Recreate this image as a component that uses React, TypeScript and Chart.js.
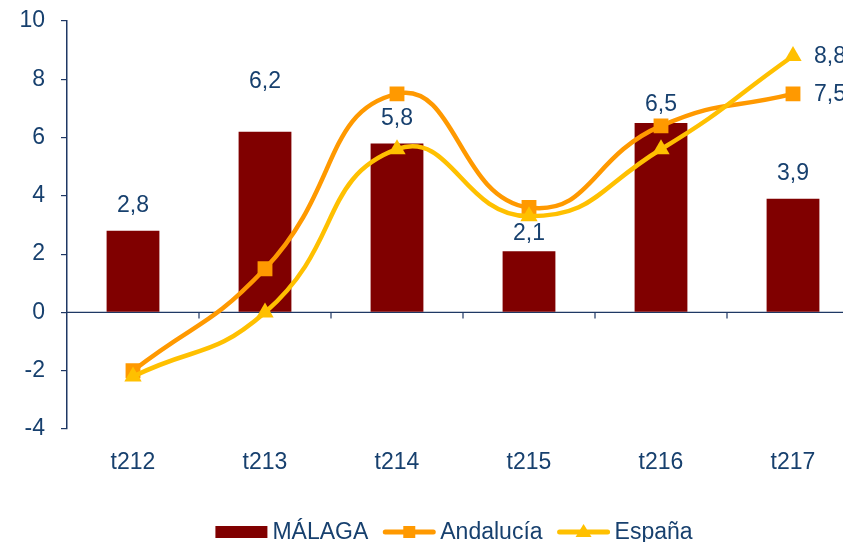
import React, { useEffect, useRef } from "react";
import { Chart, registerables } from "chart.js";

Chart.register(...registerables);

const categories = ["t212", "t213", "t214", "t215", "t216", "t217"];
const malaga = [2.8, 6.2, 5.8, 2.1, 6.5, 3.9];
const andalucia = [-2.0, 1.5, 7.5, 3.6, 6.4, 7.5];
const espana = [-2.2, 0.0, 5.6, 3.3, 5.6, 8.8];
const yTicks = [-4, -2, 0, 2, 4, 6, 8, 10];

const TEXT = "#17406E";
const AXIS = "#1F3864";
const BAR = "#800000";
const ORANGE = "#FF9900";
const YELLOW = "#FFC000";
const FONT = "'Liberation Sans', Arial, sans-serif";
const FS = 23;

const fmt = (v: number) => v.toFixed(1).replace(".", ",");

const overlayPlugin = {
  id: "overlay",
  beforeDatasetsDraw(chart: any) {
    const { ctx, chartArea, scales } = chart;
    const y0 = scales.y.getPixelForValue(0);
    ctx.save();
    ctx.strokeStyle = AXIS;
    ctx.lineWidth = 1.2;
    ctx.beginPath();
    ctx.moveTo(chartArea.left, y0);
    ctx.lineTo(chartArea.right, y0);
    const step = scales.x.getPixelForValue(1) - scales.x.getPixelForValue(0);
    for (let i = 1; i < categories.length; i++) {
      const x = scales.x.getPixelForValue(i) - step / 2;
      ctx.moveTo(x, y0);
      ctx.lineTo(x, y0 + 6);
    }
    ctx.stroke();
    ctx.restore();
  },
  afterDatasetsDraw(chart: any) {
    const { ctx, scales } = chart;
    ctx.save();
    ctx.fillStyle = TEXT;
    ctx.font = `${FS}px ${FONT}`;
    ctx.textAlign = "center";
    ctx.textBaseline = "middle";
    malaga.forEach((v, i) => {
      const x = scales.x.getPixelForValue(i);
      const top = scales.y.getPixelForValue(v);
      const gap = i === 1 ? 50 : i === 3 || i === 4 ? 18 : 25;
      ctx.fillText(fmt(v), x, top - gap);
    });
    ctx.textAlign = "left";
    const last = categories.length - 1;
    const xl = scales.x.getPixelForValue(last) + 21;
    ctx.fillText(fmt(andalucia[last]), xl, scales.y.getPixelForValue(andalucia[last]) + 1);
    ctx.fillText(fmt(espana[last]), xl, scales.y.getPixelForValue(espana[last]) + 1);

    // legend
    ctx.font = `${FS}px ${FONT}`;
    const names = ["MÁLAGA", "Andalucía", "España"];
    const markerW = 52;
    const gapText = 5;
    const spacing = 15;
    const widths = names.map((n) => ctx.measureText(n).width);
    const total =
      widths.reduce((a, b) => a + b, 0) + names.length * (markerW + gapText) + spacing * (names.length - 1);
    let x = 454 - total / 2;
    const ly = 532;
    names.forEach((n, i) => {
      if (i === 0) {
        ctx.fillStyle = BAR;
        ctx.fillRect(x, ly - 6, markerW, 12);
      } else {
        const col = i === 1 ? ORANGE : YELLOW;
        ctx.strokeStyle = col;
        ctx.lineWidth = 5;
        ctx.lineCap = "round";
        ctx.beginPath();
        ctx.moveTo(x + 2, ly);
        ctx.lineTo(x + markerW - 2, ly);
        ctx.stroke();
        ctx.fillStyle = col;
        const cx = x + markerW / 2;
        if (i === 1) {
          ctx.fillRect(cx - 6, ly - 6, 12, 12);
        } else {
          ctx.beginPath();
          ctx.moveTo(cx, ly - 8);
          ctx.lineTo(cx + 8, ly + 5);
          ctx.lineTo(cx - 8, ly + 5);
          ctx.closePath();
          ctx.fill();
        }
      }
      ctx.fillStyle = TEXT;
      ctx.textBaseline = "middle";
      ctx.fillText(n, x + markerW + gapText, ly + 1);
      x += markerW + gapText + widths[i] + spacing;
    });
    ctx.restore();
  },
};

export default function App() {
  const ref = useRef<HTMLCanvasElement | null>(null);
  useEffect(() => {
    if (!ref.current) return;
    const chart = new Chart(ref.current, {
      type: "bar",
      data: {
        labels: categories,
        datasets: [
          {
            type: "bar",
            label: "MÁLAGA",
            data: malaga,
            backgroundColor: BAR,
            barPercentage: 0.8,
            categoryPercentage: 0.5,
            order: 3,
          },
          {
            type: "line",
            label: "Andalucía",
            data: andalucia,
            borderColor: ORANGE,
            backgroundColor: ORANGE,
            borderWidth: 4.5,
            tension: 0.5,
            pointStyle: "rect",
            pointRadius: 10.5,
            pointBorderWidth: 0,
            order: 2,
          },
          {
            type: "line",
            label: "España",
            data: espana,
            borderColor: YELLOW,
            backgroundColor: YELLOW,
            borderWidth: 4.5,
            tension: 0.5,
            pointStyle: "triangle",
            pointRadius: 10,
            pointBorderWidth: 0,
            order: 1,
          },
        ],
      },
      options: {
        animation: false,
        responsive: false,
        maintainAspectRatio: false,
        layout: { padding: { top: 0, right: 21, bottom: 0, left: 0 } },
        plugins: { legend: { display: false }, tooltip: { enabled: false } },
        scales: {
          x: {
            grid: { display: false, drawTicks: false },
            border: { display: false },
            ticks: { color: TEXT, font: { size: FS, family: FONT }, padding: 20 },
            afterFit: (s: any) => {
              s.height = 113;
              s.paddingLeft = 0;
              s.paddingRight = 0;
            },
          },
          y: {
            min: -4,
            max: 10,
            afterBuildTicks: (s: any) => {
              s.ticks = yTicks.map((v) => ({ value: v }));
            },
            grid: { drawOnChartArea: false, tickLength: 6, color: AXIS, lineWidth: 1.2 },
            border: { color: AXIS, width: 1.5 },
            ticks: { color: TEXT, font: { size: FS, family: FONT }, padding: 16 },
            afterFit: (s: any) => {
              s.width = 67;
              s.paddingTop = 21;
              s.paddingBottom = 0;
            },
          },
        },
      },
      plugins: [overlayPlugin],
    });
    return () => chart.destroy();
  }, []);
  return (
    <div style={{ position: "fixed", left: 0, top: 0, width: 843, height: 542, overflow: "hidden", background: "#fff" }}>
      <canvas ref={ref} width={880} height={542} style={{ width: 880, height: 542, display: "block" }} />
    </div>
  );
}
